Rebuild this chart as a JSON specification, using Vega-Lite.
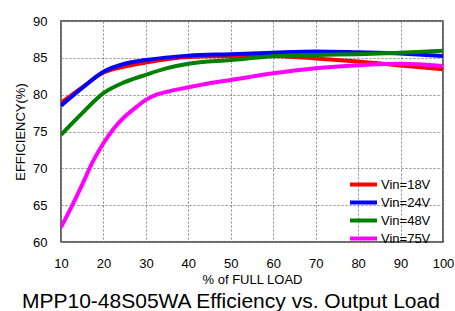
{
  "$schema": "https://vega.github.io/schema/vega-lite/v6.json",
  "width": 382,
  "height": 221,
  "autosize": {"type": "none"},
  "padding": {"left": 61, "top": 21, "right": 12, "bottom": 69},
  "background": "white",
  "config": {
    "font": "Liberation Sans",
    "view": {"stroke": "#333", "strokeWidth": 1.5},
    "axis": {"labelFont": "Liberation Sans", "titleFont": "Liberation Sans", "labelColor": "#000", "titleColor": "#000", "labelFontSize": 13, "titleFontSize": 13, "titleFontWeight": "normal", "tickSize": 0, "domain": false}
  },
  "title": {"text": "MPP10-48S05WA Efficiency vs. Output Load", "orient": "bottom", "anchor": "start", "frame": "group", "dx": -39, "fontSize": 21, "fontWeight": "normal", "font": "Liberation Sans", "color": "#000", "offset": 5},
  "data": {"values": [
    {"x": 10, "y": 78.9, "s": "Vin=18V"}, {"x": 15, "y": 81.0, "s": "Vin=18V"}, {"x": 20, "y": 83.0, "s": "Vin=18V"}, {"x": 25, "y": 83.8, "s": "Vin=18V"}, {"x": 30, "y": 84.35, "s": "Vin=18V"}, {"x": 40, "y": 85.1, "s": "Vin=18V"}, {"x": 50, "y": 85.25, "s": "Vin=18V"}, {"x": 60, "y": 85.25, "s": "Vin=18V"}, {"x": 70, "y": 84.9, "s": "Vin=18V"}, {"x": 80, "y": 84.5, "s": "Vin=18V"}, {"x": 90, "y": 83.95, "s": "Vin=18V"}, {"x": 100, "y": 83.45, "s": "Vin=18V"},
    {"x": 10, "y": 78.5, "s": "Vin=24V"}, {"x": 15, "y": 80.9, "s": "Vin=24V"}, {"x": 20, "y": 83.1, "s": "Vin=24V"}, {"x": 25, "y": 84.2, "s": "Vin=24V"}, {"x": 30, "y": 84.7, "s": "Vin=24V"}, {"x": 40, "y": 85.3, "s": "Vin=24V"}, {"x": 50, "y": 85.5, "s": "Vin=24V"}, {"x": 60, "y": 85.7, "s": "Vin=24V"}, {"x": 70, "y": 85.85, "s": "Vin=24V"}, {"x": 80, "y": 85.75, "s": "Vin=24V"}, {"x": 90, "y": 85.6, "s": "Vin=24V"}, {"x": 100, "y": 85.25, "s": "Vin=24V"},
    {"x": 10, "y": 74.55, "s": "Vin=48V"}, {"x": 15, "y": 77.5, "s": "Vin=48V"}, {"x": 20, "y": 80.2, "s": "Vin=48V"}, {"x": 25, "y": 81.7, "s": "Vin=48V"}, {"x": 30, "y": 82.7, "s": "Vin=48V"}, {"x": 35, "y": 83.6, "s": "Vin=48V"}, {"x": 40, "y": 84.2, "s": "Vin=48V"}, {"x": 50, "y": 84.7, "s": "Vin=48V"}, {"x": 60, "y": 85.2, "s": "Vin=48V"}, {"x": 70, "y": 85.4, "s": "Vin=48V"}, {"x": 80, "y": 85.5, "s": "Vin=48V"}, {"x": 90, "y": 85.7, "s": "Vin=48V"}, {"x": 100, "y": 85.95, "s": "Vin=48V"},
    {"x": 10, "y": 62.0, "s": "Vin=75V"}, {"x": 12.5, "y": 64.8, "s": "Vin=75V"}, {"x": 15, "y": 67.8, "s": "Vin=75V"}, {"x": 17.5, "y": 70.9, "s": "Vin=75V"}, {"x": 20, "y": 73.4, "s": "Vin=75V"}, {"x": 22.5, "y": 75.45, "s": "Vin=75V"}, {"x": 25, "y": 77.0, "s": "Vin=75V"}, {"x": 27.5, "y": 78.2, "s": "Vin=75V"}, {"x": 30, "y": 79.3, "s": "Vin=75V"}, {"x": 32.5, "y": 80.0, "s": "Vin=75V"}, {"x": 35, "y": 80.4, "s": "Vin=75V"}, {"x": 40, "y": 81.0, "s": "Vin=75V"}, {"x": 45, "y": 81.55, "s": "Vin=75V"}, {"x": 50, "y": 82.0, "s": "Vin=75V"}, {"x": 60, "y": 82.9, "s": "Vin=75V"}, {"x": 70, "y": 83.6, "s": "Vin=75V"}, {"x": 80, "y": 84.0, "s": "Vin=75V"}, {"x": 90, "y": 84.2, "s": "Vin=75V"}, {"x": 100, "y": 83.9, "s": "Vin=75V"}
  ]},
  "mark": {"type": "line", "strokeWidth": 4, "interpolate": "monotone", "clip": true},
  "encoding": {
    "x": {"field": "x", "type": "quantitative", "scale": {"domain": [10, 100], "nice": false}, "axis": {"grid": true, "gridColor": "#888", "gridDash": [2, 2], "gridWidth": 1, "gridOpacity": 1, "values": [10, 20, 30, 40, 50, 60, 70, 80, 90, 100], "title": "% of FULL LOAD", "labelPadding": 15, "titlePadding": 3, "labelFlush": false}},
    "y": {"field": "y", "type": "quantitative", "scale": {"domain": [60, 90], "nice": false, "zero": false}, "axis": {"grid": true, "gridColor": "#888", "gridDash": [2, 2], "gridWidth": 1, "gridOpacity": 1, "values": [60, 65, 70, 75, 80, 85, 90], "title": "EFFICIENCY(%)", "labelPadding": 14, "titlePadding": 5}},
    "color": {"field": "s", "type": "nominal", "scale": {"domain": ["Vin=18V", "Vin=24V", "Vin=48V", "Vin=75V"], "range": ["#ff0000", "#0000ff", "#008000", "#ff00ff"]},
      "legend": {"title": null, "orient": "none", "legendX": 293, "legendY": 154, "symbolType": "M-1.8,0H1.8", "symbolSize": 225, "symbolStrokeWidth": 4, "labelFontSize": 13, "labelFont": "Liberation Sans", "labelColor": "#000", "rowPadding": 0, "labelOffset": 8, "symbolOffset": 0}}
  }
}
